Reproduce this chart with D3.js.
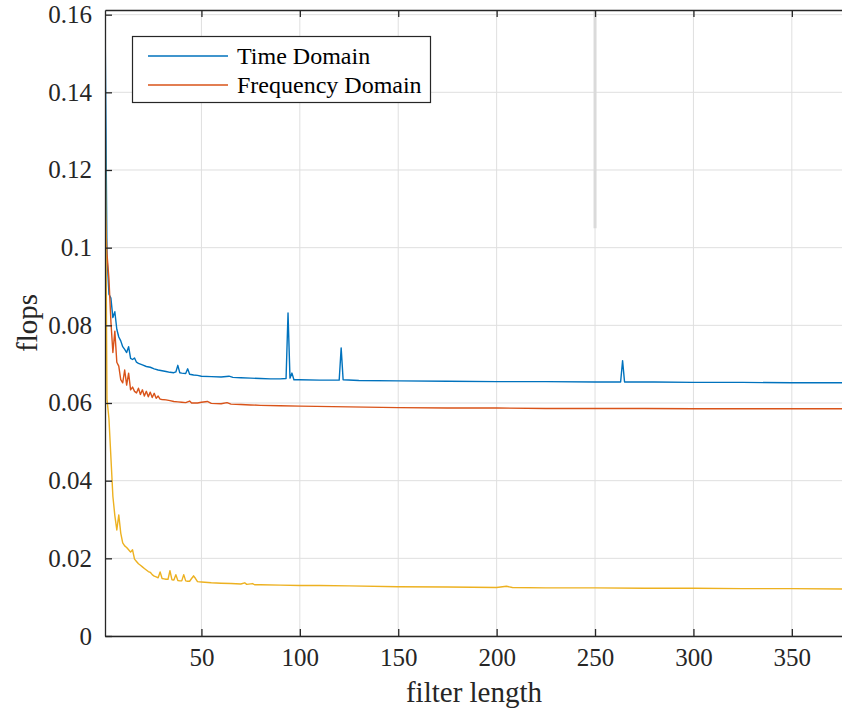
<!DOCTYPE html>
<html><head><meta charset="utf-8">
<script src="https://cdn.jsdelivr.net/npm/d3@7"></script>
<style>html,body{margin:0;padding:0;background:#fff;}svg{display:block;}
svg text{font-family:'Liberation Serif','Times New Roman',serif;}</style>
</head><body><svg id="chart" width="842" height="717"></svg>
<script>
// ---- data ----
const timeDomain = [[1,0.161],[2,0.098],[3,0.088],[4,0.087],[5,0.082],[6,0.0835],[7,0.079],[8,0.077],[9,0.076],[10,0.0745],[11,0.0738],[12,0.073],[13,0.0745],[14,0.0715],[15,0.0712],[16,0.0716],[17,0.0705],[18,0.0702],[19,0.07],[20,0.0698],[22,0.0694],[24,0.0692],[26,0.0688],[28,0.0685],[30,0.0683],[32,0.0681],[34,0.0679],[36,0.0678],[37,0.068],[38,0.0697],[39,0.0678],[40,0.0677],[42,0.0676],[43,0.0688],[44,0.0674],[46,0.0672],[48,0.0671],[50,0.0669],[55,0.0668],[60,0.0667],[64,0.0669],[66,0.0666],[70,0.0665],[75,0.0664],[80,0.0663],[85,0.0662],[90,0.0662],[93,0.0663],[94,0.0832],[95,0.0664],[96,0.0677],[97,0.066],[100,0.066],[110,0.0659],[120,0.0659],[121,0.0742],[122,0.066],[130,0.0658],[150,0.0657],[175,0.0656],[200,0.0655],[225,0.0655],[250,0.0654],[263,0.0654],[264,0.0709],[265,0.0654],[280,0.0654],[300,0.0653],[325,0.0653],[350,0.0652],[376,0.0652]];
const freqDomain = [[1,0.111],[2,0.0985],[3,0.092],[4,0.081],[5,0.073],[6,0.0785],[7,0.0705],[8,0.0695],[9,0.066],[10,0.0652],[11,0.0685],[12,0.0646],[13,0.0677],[14,0.0634],[15,0.0641],[16,0.063],[17,0.0626],[18,0.0638],[19,0.0622],[20,0.0634],[21,0.0618],[22,0.063],[23,0.0616],[24,0.0628],[25,0.0614],[26,0.0625],[27,0.0612],[28,0.0618],[29,0.061],[30,0.0609],[32,0.0608],[34,0.0606],[36,0.0604],[38,0.0603],[40,0.0602],[42,0.0601],[44,0.0605],[45,0.06],[48,0.06],[50,0.0602],[53,0.0604],[55,0.0599],[60,0.0598],[63,0.0601],[65,0.0597],[70,0.0596],[75,0.0595],[80,0.0594],[90,0.0593],[100,0.0592],[125,0.059],[150,0.0588],[175,0.0587],[200,0.0587],[225,0.0586],[250,0.0586],[275,0.0586],[300,0.0585],[325,0.0585],[350,0.0585],[376,0.0585]];
const thirdSeries = [[1,0.143],[2,0.061],[3,0.056],[4,0.046],[5,0.036],[6,0.031],[7,0.0273],[8,0.0312],[9,0.0265],[10,0.024],[11,0.0232],[12,0.0228],[13,0.0222],[14,0.0216],[15,0.0222],[16,0.0198],[17,0.0192],[18,0.0186],[19,0.0182],[20,0.0178],[21,0.0174],[22,0.017],[23,0.0166],[24,0.0164],[25,0.0158],[26,0.0154],[27,0.0152],[28,0.015],[29,0.0165],[30,0.0148],[31,0.0147],[32,0.0146],[33,0.0146],[34,0.0168],[35,0.0145],[36,0.0144],[37,0.0158],[38,0.0143],[39,0.0142],[40,0.0142],[41,0.0158],[42,0.0142],[43,0.0141],[44,0.0141],[45,0.0148],[46,0.0155],[47,0.0148],[48,0.014],[50,0.0139],[55,0.0137],[60,0.0136],[65,0.0135],[70,0.0134],[72,0.0137],[73,0.0133],[76,0.0135],[77,0.0132],[80,0.0132],[90,0.0131],[100,0.013],[110,0.013],[125,0.0129],[150,0.0127],[175,0.0126],[200,0.0125],[205,0.0128],[208,0.0125],[225,0.0124],[250,0.0124],[275,0.0123],[300,0.0123],[325,0.0122],[350,0.0122],[376,0.0121]];
const seriesNames = ["Time Domain", "Frequency Domain"];
const xTicks = [50,100,150,200,250,300,350];
const yTicks = [0,0.02,0.04,0.06,0.08,0.1,0.12,0.14,0.16];
const xDomain = [1, 376];
const yDomain = [0, 0.1612];
const cursorMark = {x: 250, y0: 0.105, y1: 0.1612};
const xLabel = "filter length", yLabel = "flops";

(function(){
// ---- layout ----
const colors = ["#0072BD", "#D95319", "#EDB120"];
const pL = 105, pR = 843, pT = 10, pB = 636;
const svg = d3.select("#chart");
const font = "'Liberation Serif','Times New Roman',serif";
const x = d3.scaleLinear().domain(xDomain).range([pL, pR]);
const y = d3.scaleLinear().domain(yDomain).range([pB, pT]);

svg.append("defs").append("clipPath").attr("id","clip")
  .append("rect").attr("x",pL).attr("y",pT).attr("width",pR-pL).attr("height",pB-pT);

// grid
const grid = svg.append("g").attr("stroke","#dfdfdf").attr("stroke-width",1);
xTicks.forEach(t => grid.append("line").attr("x1",x(t)).attr("x2",x(t)).attr("y1",pT).attr("y2",pB));
yTicks.forEach(t => grid.append("line").attr("x1",pL).attr("x2",pR).attr("y1",y(t)).attr("y2",y(t)));

// light gray cursor artifact
svg.append("line").attr("x1",x(cursorMark.x)).attr("x2",x(cursorMark.x))
  .attr("y1",y(cursorMark.y1)).attr("y2",y(cursorMark.y0))
  .attr("stroke","#dadada").attr("stroke-width",3);

// lines
const line = d3.line().x(d=>x(d[0])).y(d=>y(d[1]));
const lines = svg.append("g").attr("clip-path","url(#clip)");
[timeDomain, freqDomain, thirdSeries].forEach((s,i)=>{
  lines.append("path").attr("d", line(s)).attr("fill","none")
    .attr("stroke",colors[i]).attr("stroke-width",1.4).attr("stroke-linejoin","round");
});

// axes
const axisColor = "#262626";
const xAxis = svg.append("g").attr("transform",`translate(0,${pB})`)
  .call(d3.axisBottom(x).tickValues(xTicks).tickSizeInner(-7).tickSizeOuter(0).tickPadding(22));
const xTop = svg.append("g").attr("transform",`translate(0,${pT})`)
  .call(d3.axisTop(x).tickValues(xTicks).tickSizeInner(-7).tickSizeOuter(0).tickFormat(""));
const yAxis = svg.append("g").attr("transform",`translate(${pL},0)`)
  .call(d3.axisLeft(y).tickValues(yTicks).tickSizeInner(-7).tickSizeOuter(0).tickPadding(13)
    .tickFormat(d => d === 0 ? "0" : d3.format("~g")(d)));
[xAxis, xTop, yAxis].forEach(g=>{
  g.attr("font-family", font).attr("font-size", 25);
  g.select(".domain").attr("stroke",axisColor).attr("stroke-width",1.3);
  g.selectAll(".tick line").attr("stroke",axisColor).attr("stroke-width",1.3);
  g.selectAll("text").attr("fill","#262626").attr("font-family",font).attr("font-size",25);
});
xAxis.selectAll("text").attr("dy","0.32em").attr("y", 22);

// axis labels
svg.append("text").attr("x",(pL+pR)/2).attr("y",702).attr("text-anchor","middle")
  .attr("font-family",font).attr("font-size",29).attr("fill","#262626").text(xLabel);
svg.append("text").attr("transform",`translate(37,${(pT+pB)/2}) rotate(-90)`).attr("text-anchor","middle")
  .attr("font-family",font).attr("font-size",29).attr("fill","#262626").text(yLabel);

// legend
const lg = svg.append("g");
lg.append("rect").attr("x",132.5).attr("y",36.5).attr("width",298).attr("height",66)
  .attr("fill","#fff").attr("stroke",axisColor).attr("stroke-width",1.2);
seriesNames.forEach((n,i)=>{
  const yy = 56 + i*29;
  lg.append("line").attr("x1",148).attr("x2",228).attr("y1",yy).attr("y2",yy)
    .attr("stroke",colors[i]).attr("stroke-width",1.5);
  lg.append("text").attr("x",237).attr("y",yy+8).attr("font-family",font).attr("font-size",24)
    .attr("fill","#000").text(n);
});
})();
</script></body></html>
